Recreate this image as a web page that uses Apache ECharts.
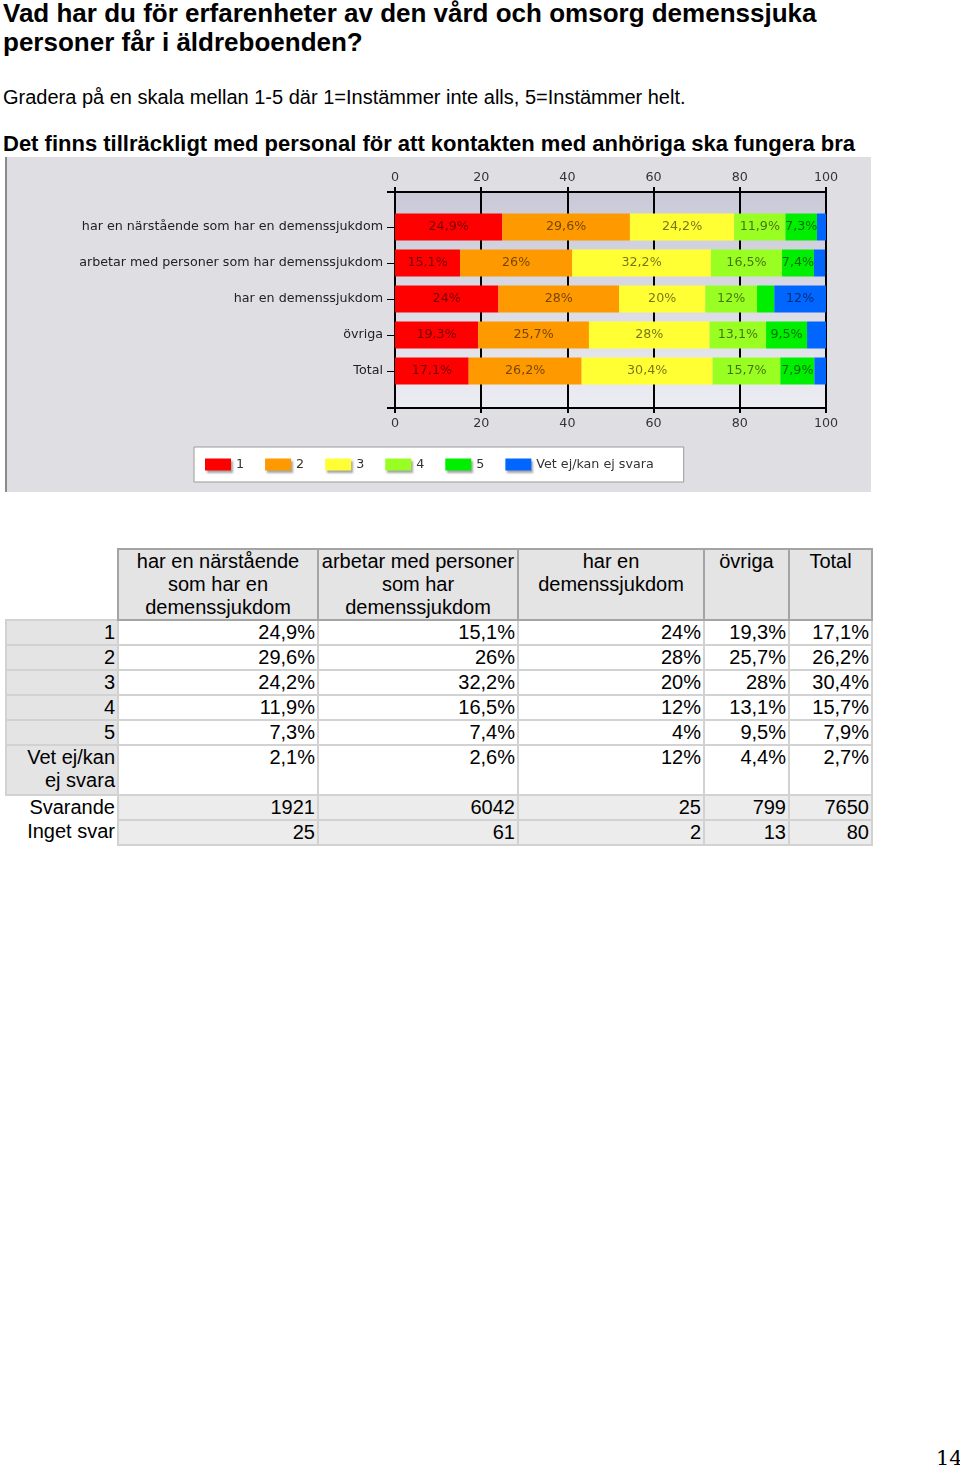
<!DOCTYPE html>
<html>
<head>
<meta charset="utf-8">
<script src="https://cdn.jsdelivr.net/npm/echarts@6/dist/echarts.min.js"></script>
<style>
  html, body { margin:0; padding:0; background:#fff; }
  body { width:960px; height:1470px; position:relative; overflow:hidden; font-family:'Liberation Sans', Arial, sans-serif; color:#000; }
  .txt { position:absolute; white-space:nowrap; }
  #chart { position:absolute; left:5px; top:157px; width:866px; height:335px; }
  #chartBorder { position:absolute; left:5px; top:157px; width:2px; height:335px; background:#8a8a8a; }
  table { position:absolute; left:5px; top:548px; border-collapse:collapse; table-layout:fixed; font-size:20px; line-height:23px; }
  td, th { padding:0 2px; vertical-align:top; overflow:hidden; }
  th { font-weight:normal; text-align:center; background:#e4e4e4; border:2px solid #a4a4a4; height:68px; }
  th.empty { background:none; border:none; }
  td { text-align:right; border:2px solid #d2d2d2; height:21px; }
  td.lab { background:#e4e4e4; }
  td.lab2 { background:#fff; border:none; }
  td.val { background:#fff; }
  td.cnt { background:#ececec; }
  tr.two td { height:48px; }
</style>
</head>
<body>
<div class="txt" style="left:3px; top:-1px; font-weight:bold; font-size:26px; line-height:29px;">Vad har du för erfarenheter av den vård och omsorg demenssjuka<br>personer får i äldreboenden?</div>
<div class="txt" style="left:3px; top:85px; font-size:20px; line-height:24px;">Gradera på en skala mellan 1-5 där 1=Instämmer inte alls, 5=Instämmer helt.</div>
<div class="txt" style="left:3px; top:131px; font-weight:bold; font-size:22px; line-height:26px;">Det finns tillräckligt med personal för att kontakten med anhöriga ska fungera bra</div>
<div id="chart"></div>
<div id="chartBorder"></div>
<table id="tbl"></table>
<div class="txt" style="left:936px; top:1445px; font-family:'DejaVu Serif','Liberation Serif',serif; font-size:21px; line-height:26px;">14</div>
<script>
// ---- data ----
const categories = [
  'har en närstående som har en demenssjukdom',
  'arbetar med personer som har demenssjukdom',
  'har en demenssjukdom',
  'övriga',
  'Total'
];
const seriesNames = ['1', '2', '3', '4', '5', 'Vet ej/kan ej svara'];
const values1 = [24.9, 15.1, 24, 19.3, 17.1];
const values2 = [29.6, 26, 28, 25.7, 26.2];
const values3 = [24.2, 32.2, 20, 28, 30.4];
const values4 = [11.9, 16.5, 12, 13.1, 15.7];
const values5 = [7.3, 7.4, 4, 9.5, 7.9];
const valuesVet = [2.1, 2.6, 12, 4.4, 2.7];
const svarande = [1921, 6042, 25, 799, 7650];
const ingetSvar = [25, 61, 2, 13, 80];
const tableRowLabels = ['1', '2', '3', '4', '5', 'Vet ej/kan ej svara'];

const seriesValues = [values1, values2, values3, values4, values5, valuesVet];
const colors = ['#ff0000', '#ff9900', '#ffff33', '#99ff22', '#00ee00', '#0066ff'];

function pct(v) { return String(v).replace('.', ',') + '%'; }

// ---- table ----
(function buildTable() {
  const widths = [112, 200, 200, 186, 85, 83];
  const tbl = document.getElementById('tbl');
  const cg = document.createElement('colgroup');
  widths.forEach(w => { const c = document.createElement('col'); c.style.width = w + 'px'; cg.appendChild(c); });
  tbl.appendChild(cg);
  let html = '<tr><th class="empty"></th>' + categories.map(c => '<th>' + c + '</th>').join('') + '</tr>';
  tableRowLabels.forEach((lab, i) => {
    html += '<tr' + (i === 5 ? ' class="two"' : '') + '><td class="lab">' + (i === 5 ? 'Vet ej/kan<br>ej svara' : lab) + '</td>' +
      seriesValues[i].map(v => '<td class="val">' + pct(v) + '</td>').join('') + '</tr>';
  });
  html += '<tr><td class="lab2">Svarande</td>' + svarande.map(v => '<td class="cnt">' + v + '</td>').join('') + '</tr>';
  html += '<tr><td class="lab2">Inget svar</td>' + ingetSvar.map(v => '<td class="cnt">' + v + '</td>').join('') + '</tr>';
  tbl.insertAdjacentHTML('beforeend', html);
})();

// ---- chart ----
const chart = echarts.init(document.getElementById('chart'), null, { renderer: 'canvas' });
const fontFam = "'DejaVu Sans', Verdana, sans-serif";
const FS = 12.7;
const tickLabel = { color: '#333', fontFamily: fontFam, fontSize: FS };

const option = {
  backgroundColor: '#dfdfe3',
  animation: false,
  grid: [
    { left: 390, top: 35, width: 431, height: 216, show: true, borderWidth: 0,
      backgroundColor: { type: 'linear', x: 0, y: 0, x2: 0, y2: 1,
        colorStops: [{ offset: 0, color: '#c9c9d8' }, { offset: 1, color: '#ececf3' }] } },
    { left: 390, top: 52, width: 431, height: 180 }
  ],
  xAxis: [
    { gridIndex: 0, type: 'value', position: 'top', min: 0, max: 100, interval: 20,
      axisLine: { show: true, onZero: false, lineStyle: { color: '#000', width: 2 } },
      axisTick: { show: true, length: 5, lineStyle: { color: '#000', width: 2 } },
      axisLabel: Object.assign({ margin: 8 }, tickLabel),
      splitLine: { show: true, lineStyle: { color: '#000', width: 2 } } },
    { gridIndex: 0, type: 'value', position: 'bottom', min: 0, max: 100, interval: 20,
      axisLine: { show: true, onZero: false, lineStyle: { color: '#000', width: 2 } },
      axisTick: { show: true, length: 5, lineStyle: { color: '#000', width: 2 } },
      axisLabel: Object.assign({ margin: 9 }, tickLabel),
      splitLine: { show: false } },
    { gridIndex: 1, type: 'value', min: 0, max: 100, show: false }
  ],
  yAxis: [
    { gridIndex: 0, type: 'value', min: 0, max: 1, interval: 1,
      axisLine: { show: true, onZero: false, lineStyle: { color: '#000', width: 2 } },
      axisTick: { show: true, length: 8, lineStyle: { color: '#000', width: 2 } },
      axisLabel: { show: false }, splitLine: { show: false } },
    { gridIndex: 1, type: 'category', data: categories, inverse: true,
      axisLine: { show: false },
      axisTick: { show: true, alignWithLabel: true, length: 8, lineStyle: { color: '#000', width: 1 } },
      axisLabel: Object.assign({ margin: 12 }, tickLabel, { color: '#222' }),
      splitLine: { show: false } }
  ],
  legend: {
    left: 189, top: 290,
    padding: [11, 30, 11, 11],
    itemGap: 21, itemWidth: 26, itemHeight: 12,
    icon: 'rect',
    backgroundColor: '#fff', borderColor: '#9a9a9a', borderWidth: 1,
    textStyle: { color: '#333', fontFamily: fontFam, fontSize: FS },
    itemStyle: { shadowColor: 'rgba(0,0,0,0.35)', shadowBlur: 2, shadowOffsetX: 2, shadowOffsetY: 2 },
    data: seriesNames
  },
  series: seriesNames.map((name, i) => ({
    name: name, type: 'bar', stack: 'all', xAxisIndex: 2, yAxisIndex: 1,
    barWidth: 27,
    itemStyle: { color: colors[i] },
    label: {
      show: true, position: 'inside', fontFamily: fontFam, fontSize: FS,
      color: 'rgba(0,0,0,0.55)',
      formatter: p => (p.value >= 5 ? pct(p.value) : '')
    },
    data: seriesValues[i]
  }))
};
chart.setOption(option);
</script>
</body>
</html>
